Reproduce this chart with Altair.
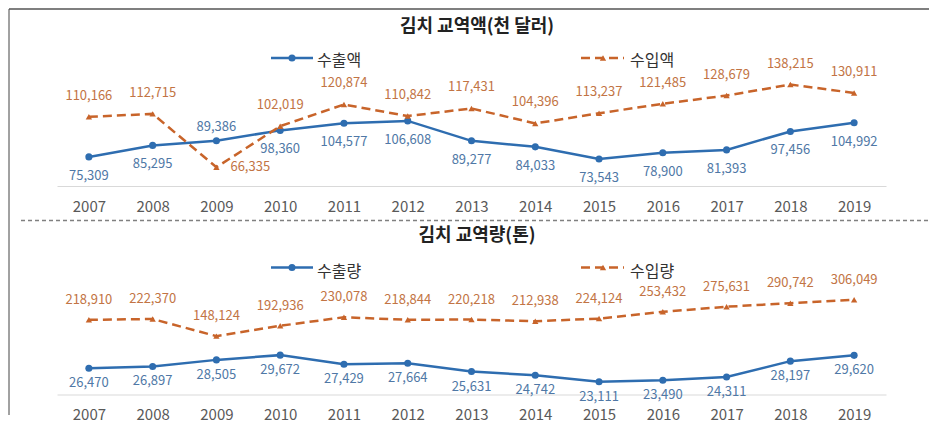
import altair as alt
import pandas as pd

years = [str(y) for y in range(2007, 2020)]

export_amount = [75309, 85295, 89386, 98360, 104577, 106608, 89277, 84033, 73543, 78900, 81393, 97456, 104992]
import_amount = [110166, 112715, 66335, 102019, 120874, 110842, 117431, 104396, 113237, 121485, 128679, 138215, 130911]
export_volume = [26470, 26897, 28505, 29672, 27429, 27664, 25631, 24742, 23111, 23490, 24311, 28197, 29620]
import_volume = [218910, 222370, 148124, 192936, 230078, 218844, 220218, 212938, 224124, 253432, 275631, 290742, 306049]

# which side of the point each value label sits on
export_amount_place = ["below", "below", "above"] + ["below"] * 10
import_amount_place = ["above", "above", "right"] + ["above"] * 10
export_volume_place = ["below"] * 13
import_volume_place = ["above"] * 13

titles = ["김치 교역액(천 달러)", "김치 교역량(톤)"]
series_names = [["수출액", "수입액"], ["수출량", "수입량"]]

FONT = "Noto Sans CJK KR"
BLUE = "#2E6DB0"
BLUE_TXT = "#4F78A6"
ORANGE = "#C8642A"
ORANGE_TXT = "#C27444"
W = 829

x_enc = alt.X(
    "year:O",
    scale=alt.Scale(type="point", domain=years, padding=0.5),
    axis=alt.Axis(title=None, labelAngle=0, labelFontSize=15, labelColor="#595959",
                  labelFont=FONT, ticks=False, domainColor="#D9D9D9", domainWidth=1.2,
                  labelPadding=13, grid=False),
)


def series_layers(values, places, dom, is_import, offsets):
    df = pd.DataFrame({"year": years, "value": values, "place": places})
    base = alt.Chart(df)
    y = alt.Y("value:Q", scale=alt.Scale(domain=dom, zero=False, nice=False), axis=None)
    color = ORANGE if is_import else BLUE
    txt = ORANGE_TXT if is_import else BLUE_TXT
    if is_import:
        line = base.mark_line(color=color, strokeWidth=2.5, strokeDash=[9, 5])
        pts = base.mark_point(shape="triangle-up", filled=True, size=40, color=color, opacity=1)
    else:
        line = base.mark_line(color=color, strokeWidth=2.5)
        pts = base.mark_point(shape="circle", filled=True, size=50, color=color, opacity=1)
    layers = [line.encode(x=x_enc, y=y), pts.encode(x=x_enc, y=y)]
    for p in sorted(set(places)):
        layers.append(
            base.transform_filter(alt.datum.place == p)
            .mark_text(font=FONT, fontSize=13, color=txt, **offsets[p])
            .encode(x=x_enc, y=y, text=alt.Text("value:Q", format=","))
        )
    return layers


def legend_layers(names, y_line, y_text):
    out = []
    one_a = pd.DataFrame({"t": [names[0]]})
    one_b = pd.DataFrame({"t": [names[1]]})
    out.append(alt.Chart(one_a).mark_rule(color=BLUE, strokeWidth=2.5).encode(
        x=alt.value(214), x2=alt.value(256), y=alt.value(y_line)))
    out.append(alt.Chart(one_a).mark_point(shape="circle", filled=True, size=50, color=BLUE, opacity=1).encode(
        x=alt.value(235), y=alt.value(y_line)))
    out.append(alt.Chart(one_a).mark_text(font=FONT, fontSize=16, color="#333333", align="left").encode(
        x=alt.value(260), y=alt.value(y_text), text="t:N"))
    out.append(alt.Chart(one_b).mark_rule(color=ORANGE, strokeWidth=2.5, strokeDash=[9, 5]).encode(
        x=alt.value(524), x2=alt.value(567), y=alt.value(y_line)))
    out.append(alt.Chart(one_b).mark_point(shape="triangle-up", filled=True, size=40, color=ORANGE, opacity=1).encode(
        x=alt.value(546), y=alt.value(y_line)))
    out.append(alt.Chart(one_b).mark_text(font=FONT, fontSize=16, color="#333333", align="left").encode(
        x=alt.value(573), y=alt.value(y_text), text="t:N"))
    return out


def title_layer(text, y):
    return alt.Chart(pd.DataFrame({"t": [text]})).mark_text(
        font=FONT, fontSize=18, fontWeight="bold", color="#222222").encode(
        x=alt.value(420), y=alt.value(y), text="t:N")


frame = pd.DataFrame({"k": [0]})

# ---- top panel: trade value ----
top_layers = [
    alt.Chart(frame).mark_rule(color="#444444", strokeWidth=1).encode(
        x=alt.value(-48), y=alt.value(-62), y2=alt.value(344)),
    alt.Chart(frame).mark_rule(color="#555555", strokeWidth=1.5).encode(
        x=alt.value(-48), x2=alt.value(872), y=alt.value(-62)),
    title_layer(titles[0], -44),
]
top_layers += legend_layers(series_names[0], -13, -10)
top_layers += series_layers(export_amount, export_amount_place, [50000, 150000], False,
                            {"below": {"dy": 19}, "above": {"dy": -14}})
top_layers += series_layers(import_amount, import_amount_place, [50000, 150000], True,
                            {"above": {"dy": -21}, "right": {"dx": 14, "align": "left"}})
top = alt.layer(*top_layers).resolve_scale(y="independent").properties(width=W, height=115)

# ---- bottom panel: trade volume ----
bot_layers = [
    alt.Chart(frame).mark_rule(color="#808080", strokeWidth=1.5, strokeDash=[4, 3]).encode(
        x=alt.value(-36), x2=alt.value(872), y=alt.value(-70)),
    title_layer(titles[1], -55),
]
bot_layers += legend_layers(series_names[1], -23, -19)
bot_layers += series_layers(export_volume, export_volume_place, [20000, 45550], False,
                            {"below": {"dy": 15}})
bot_layers += series_layers(import_volume, import_volume_place, [-105000, 346000], True,
                            {"above": {"dy": -20}})
bottom = alt.layer(*bot_layers).resolve_scale(y="independent").properties(width=W, height=104)

chart = (
    alt.vconcat(top, bottom, spacing=104.5, bounds="flush")
    .properties(padding=0, background="white")
    .configure_view(stroke=None)
)

chart.save("out.html", embed_options={"renderer": "svg", "actions": False})
